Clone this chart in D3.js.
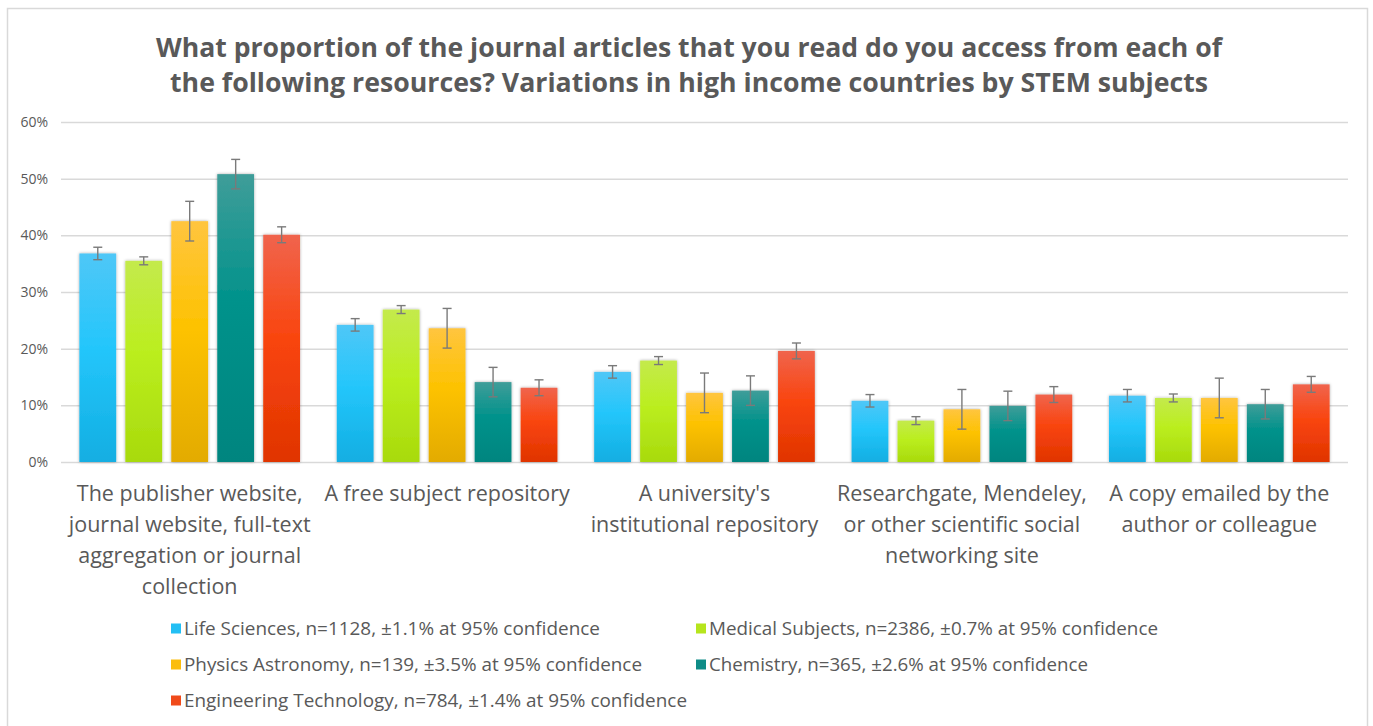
<!DOCTYPE html>
<html>
<head>
<meta charset="utf-8">
<script src="https://cdn.jsdelivr.net/npm/d3@7"></script>
<style>
  html, body { margin: 0; padding: 0; background: #fff; }
  svg { display: block; }
  text { font-family: "Open Sans", "Noto Sans", sans-serif; fill: #595959; }
</style>
</head>
<body>
<svg id="chart" width="1373" height="726"></svg>
<script>
// Access routes for journal articles (category axis)
const categories = [
  "publisher", "freeRepo", "instRepo", "social", "emailed"
];
const categoryLines = [
  ["The publisher website,", "journal website, full-text", "aggregation or journal", "collection"],
  ["A free subject repository"],
  ["A university's", "institutional repository"],
  ["Researchgate, Mendeley,", "or other scientific social", "networking site"],
  ["A copy emailed by the", "author or colleague"]
];

// Subject groups and their legend labels
const seriesKeys = ["life", "medical", "physics", "chemistry", "engineering"];
const seriesLabels = [
  "Life Sciences, n=1128, \u00b11.1% at 95% confidence",
  "Medical Subjects, n=2386, \u00b10.7% at 95% confidence",
  "Physics Astronomy, n=139, \u00b13.5% at 95% confidence",
  "Chemistry, n=365, \u00b12.6% at 95% confidence",
  "Engineering Technology, n=784, \u00b11.4% at 95% confidence"
];
// Margin of error (percentage points) per subject
const seriesMargins = [1.1, 0.7, 3.5, 2.6, 1.4];

// Percent of articles accessed, per route
const lifeSciences = [36.8, 24.2, 15.9, 10.8, 11.7];
const medicalSubjects = [35.5, 26.9, 17.9, 7.3, 11.3];
const physicsAstronomy = [42.5, 23.6, 12.2, 9.3, 11.3];
const chemistry = [50.8, 14.1, 12.6, 9.9, 10.2];
const engineeringTechnology = [40.1, 13.1, 19.6, 11.9, 13.7];
const seriesValues = [lifeSciences, medicalSubjects, physicsAstronomy, chemistry, engineeringTechnology];

const yTicks = [0, 10, 20, 30, 40, 50, 60];

// Gradient stops: top, middle, bottom
const seriesColors = [
  ["#4fc7f7", "#24c6fb", "#12aee2"],
  ["#c4ea4c", "#bbee1f", "#a8da0c"],
  ["#ffc53f", "#fdc200", "#e3ab00"],
  ["#3f9d99", "#00928b", "#00857f"],
  ["#f0644d", "#f9450f", "#e03400"]
];
const legendSwatch = ["#23bff4", "#b6e51d", "#fbbd0c", "#0e8c87", "#f04a1a"];

const svg = d3.select("#chart");
const defs = svg.append("defs");

seriesKeys.forEach((k, i) => {
  const g = defs.append("linearGradient")
    .attr("id", "grad-" + k)
    .attr("x1", 0).attr("y1", 0).attr("x2", 0).attr("y2", 1);
  g.append("stop").attr("offset", "0%").attr("stop-color", seriesColors[i][0]);
  g.append("stop").attr("offset", "45%").attr("stop-color", seriesColors[i][1]);
  g.append("stop").attr("offset", "100%").attr("stop-color", seriesColors[i][2]);
});

const shadow = defs.append("filter").attr("id", "barShadow")
  .attr("x", "-20%").attr("y", "-5%").attr("width", "140%").attr("height", "110%");
shadow.append("feDropShadow")
  .attr("dx", 0).attr("dy", 0).attr("stdDeviation", 1.6)
  .attr("flood-color", "#000").attr("flood-opacity", 0.35);

// Chart frame
svg.append("rect")
  .attr("x", 7.5).attr("y", 8.5).attr("width", 1360).attr("height", 740)
  .attr("fill", "#fff").attr("stroke", "#d9d9d9").attr("stroke-width", 1.5);

// Title
const titleLines = [
  "What proportion of the journal articles that you read do you access from each of",
  "the following resources? Variations in high income countries by STEM subjects"
];
const titleWidths = [1066, 1038];
const titleY = [57, 92];
titleLines.forEach((t, i) => {
  svg.append("text")
    .attr("x", 689).attr("y", titleY[i])
    .attr("text-anchor", "middle")
    .attr("font-size", 27).attr("font-weight", 700)
    .attr("textLength", titleWidths[i])
    .attr("lengthAdjust", "spacingAndGlyphs")
    .text(t);
});

// Scales
const plotLeft = 61, plotRight = 1348, plotTop = 122, plotBottom = 462;
const x0 = d3.scaleBand().domain(categories).range([plotLeft, plotRight]).padding(0);
const x1 = d3.scaleBand().domain(seriesKeys).range([0, x0.bandwidth()])
  .paddingInner(0.2).paddingOuter(0.4);
const y = d3.scaleLinear().domain([0, 60]).range([plotBottom, plotTop]);

// Gridlines + y axis labels
const yAxis = d3.axisLeft(y).tickValues(yTicks)
  .tickSize(-(plotRight - plotLeft)).tickPadding(13)
  .tickFormat(d => d + "%");
const yg = svg.append("g").attr("transform", `translate(${plotLeft},0)`).call(yAxis);
yg.select(".domain").remove();
yg.selectAll(".tick line").attr("stroke", "#d9d9d9").attr("stroke-width", 1.5);
yg.selectAll(".tick text").attr("font-size", 14).attr("fill", "#595959")
  .style("font-family", "'Open Sans', sans-serif");

// Bars
const groups = svg.append("g").selectAll("g.cat")
  .data(categories).join("g")
  .attr("class", "cat")
  .attr("transform", d => `translate(${x0(d)},0)`);

groups.each(function (cat, ci) {
  const g = d3.select(this);
  const rows = seriesKeys.map((k, si) => ({ key: k, v: seriesValues[si][ci], m: seriesMargins[si] }));
  g.selectAll("rect.bar").data(rows).join("rect")
    .attr("class", "bar")
    .attr("x", d => x1(d.key))
    .attr("y", d => y(d.v))
    .attr("width", x1.bandwidth())
    .attr("height", d => y(0) - y(d.v))
    .attr("fill", d => `url(#grad-${d.key})`)
    .attr("filter", "url(#barShadow)");

  const eb = g.selectAll("g.err").data(rows).join("g").attr("class", "err")
    .attr("stroke", "#7a7a7a").attr("stroke-width", 1.4);
  eb.append("line")
    .attr("x1", d => x1(d.key) + x1.bandwidth() / 2)
    .attr("x2", d => x1(d.key) + x1.bandwidth() / 2)
    .attr("y1", d => y(d.v + d.m)).attr("y2", d => y(d.v - d.m));
  [1, -1].forEach(s => {
    eb.append("line")
      .attr("x1", d => x1(d.key) + x1.bandwidth() / 2 - 4.5)
      .attr("x2", d => x1(d.key) + x1.bandwidth() / 2 + 4.5)
      .attr("y1", d => y(d.v + s * d.m)).attr("y2", d => y(d.v + s * d.m));
  });
});

// Category labels
const catLabels = svg.append("g");
categories.forEach((c, i) => {
  const t = catLabels.append("text")
    .attr("x", x0(c) + x0.bandwidth() / 2)
    .attr("y", 501)
    .attr("text-anchor", "middle")
    .attr("font-size", 21.5);
  categoryLines[i].forEach((line, li) => {
    t.append("tspan")
      .attr("x", x0(c) + x0.bandwidth() / 2)
      .attr("dy", li === 0 ? 0 : 31)
      .text(line);
  });
});

// Legend
const legendCols = [171, 696];
const legendRows = [629, 665, 701];
const legendWidths = [416, 449, 458, 379, 503];
const legend = svg.append("g");
seriesLabels.forEach((label, i) => {
  const lx = legendCols[i % 2], ly = legendRows[Math.floor(i / 2)];
  legend.append("rect")
    .attr("x", lx).attr("y", ly - 5.5).attr("width", 10).attr("height", 10)
    .attr("fill", legendSwatch[i]);
  legend.append("text")
    .attr("x", lx + 13).attr("y", ly + 6)
    .attr("font-size", 18)
    .attr("textLength", legendWidths[i])
    .attr("lengthAdjust", "spacingAndGlyphs")
    .text(label);
});
</script>
</body>
</html>
